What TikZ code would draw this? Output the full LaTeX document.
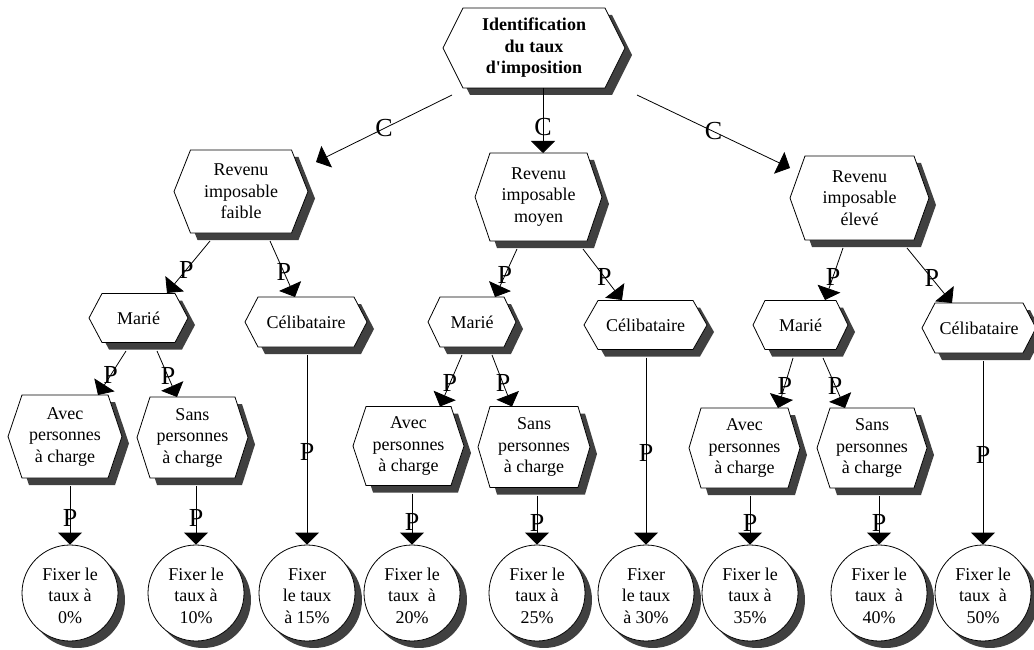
\documentclass[tikz,border=0pt]{standalone}
\usepackage{fontspec}
\setmainfont{Liberation Serif}
\usetikzlibrary{arrows.meta,calc}

\newcommand\txtfont{\fontsize{18}{21.5}\selectfont}
\newcommand\labfont{\fontsize{26}{26}\selectfont}

\tikzset{
  shadowfill/.style={fill=black!75, draw=none},
  hexshape/.style={draw=black, line width=0.8pt, fill=white},
  hexlabel/.style={inner sep=1pt, align=center, font=\txtfont},
  circnode/.style={circle, draw=black, line width=0.8pt, fill=white, minimum size=96pt,
    inner sep=0pt, align=center, font=\txtfont},
  conn/.style={line width=0.8pt, -{Triangle[width=24pt,length=12pt]}},
  plabel/.style={font=\labfont, inner sep=0pt, pos=0.55},
}

% hexagon with the visible part of its shadow (offset 7 down and right):
% name, centre x, centre y, half width, half height, inset, text
\newcommand\hexnode[7]{%
  \fill[shadowfill] ({#2+#4-#6+7*#6/#5},{#3-#5+7}) -- ({#2+#4-#6+7},{#3-#5+7})
    -- ({#2+#4+7},{#3+7}) -- ({#2+#4-#6+7},{#3+#5+7}) -- ({#2-#4+#6+7},{#3+#5+7})
    -- ({#2-#4+7+#6*(#5-7)/#5},{#3+#5}) -- ({#2+#4-#6},{#3+#5}) -- ({#2+#4},#3) -- cycle;
  \filldraw[hexshape] ({#2-#4},#3) -- ({#2-#4+#6},{#3-#5}) -- ({#2+#4-#6},{#3-#5})
    -- ({#2+#4},#3) -- ({#2+#4-#6},{#3+#5}) -- ({#2-#4+#6},{#3+#5}) -- cycle;
  \node[hexlabel, minimum width={2*(#4-#6)}, minimum height={2*#5}] (#1) at (#2,#3) {#7};
}

% round end box with the crescent of its shadow: name, centre x, centre y, text
\newcommand\ratenode[4]{%
  \fill[shadowfill] ({#2+37.26},{#3-30.26}) arc[start angle=-50.9, end angle=140.9, radius=48]
    arc[start angle=129.1, end angle=-39.1, radius=48] -- cycle;
  \node[circnode] (#1) at (#2,#3)
    {\raisebox{0pt}[\dimexpr\height+9pt\relax][\depth]{\begin{tabular}{@{}c@{}}#4\end{tabular}}};
}

\begin{document}
\begin{tikzpicture}[x=1pt,y=-1pt]
\useasboundingbox (0,0) rectangle (1034,650);

% decision tree boxes
\hexnode{top}{534}{48}{91}{40}{20}{\textbf{Identification}\\\textbf{du taux}\\\textbf{d\textquotesingle imposition}}

\hexnode{faible}{241}{191.5}{67}{41.5}{16.5}{Revenu\\imposable\\faible}
\hexnode{moyen}{538.5}{197}{63.5}{44}{15}{Revenu\\imposable\\moyen}
\hexnode{eleve}{859.5}{198}{69.5}{42}{15}{Revenu\\imposable\\élevé}

\hexnode{marie1}{138.5}{318}{49.5}{24.5}{13}{Marié}
\hexnode{celib1}{306}{322}{61}{25}{13}{Célibataire}
\hexnode{marie2}{472}{322}{44}{25}{12}{Marié}
\hexnode{celib2}{645.5}{325}{61.5}{24.5}{14}{Célibataire}
\hexnode{marie3}{800.5}{325}{47.5}{24.5}{12}{Marié}
\hexnode{celib3}{979}{328}{57}{25}{13}{Célibataire}

\hexnode{avec1}{65}{436.5}{57}{41.5}{14}{Avec\\personnes\\à charge}
\hexnode{sans1}{192.5}{437.5}{55.5}{40.5}{13}{Sans\\personnes\\à charge}
\hexnode{avec2}{408.5}{446}{55.5}{39.5}{13}{Avec\\personnes\\à charge}
\hexnode{sans2}{534}{447}{56}{40.5}{12}{Sans\\personnes\\à charge}
\hexnode{avec3}{744.5}{448}{55.5}{40}{12}{Avec\\personnes\\à charge}
\hexnode{sans3}{872}{448}{55}{40}{13}{Sans\\personnes\\à charge}

% final rates
\ratenode{r0}{70}{593}{Fixer le\\taux à\\0\%}
\ratenode{r10}{196}{593}{Fixer le\\taux à\\10\%}
\ratenode{r15}{307}{593}{Fixer\\le taux\\à 15\%}
\ratenode{r20}{412}{593}{Fixer le\\taux\ \ à\\20\%}
\ratenode{r25}{537}{593}{Fixer le\\taux à\\25\%}
\ratenode{r30}{646}{593}{Fixer\\le taux\\à 30\%}
\ratenode{r35}{750}{593}{Fixer le\\taux à\\35\%}
\ratenode{r40}{879}{593}{Fixer le\\taux\ \ à\\40\%}
\ratenode{r50}{983}{593}{Fixer le\\taux\ \ à\\50\%}

% first level
\draw[conn] ($(top)+(-82,47)$) -- node[plabel,pos=0.5] (ca) {C} ($(faible)+(75,-29.5)$);
\draw[conn] ($(top)+(9,40)$) -- node[plabel,pos=0.6] (cb) {C} ($(moyen)+(4.5,-44)$);
\draw[conn] ($(top)+(103,47)$) -- node[plabel,pos=0.5] (cc) {C} ($(eleve)+(-69.5,-30)$);

% second level
\draw[conn] ($(faible)+(-31,49.5)$) -- node[plabel] (pa) {P} ($(marie1)+(28.5,-25)$);
\draw[conn] ($(faible)+(29,49.5)$) -- node[plabel] (pb) {P} ($(celib1)+(-11,-25)$);
\draw[conn] ($(moyen)+(-21.5,52)$) -- node[plabel] (pc) {P} ($(marie2)+(23,-25)$);
\draw[conn] ($(moyen)+(44.5,52)$) -- node[plabel] (pd) {P} ($(celib2)+(-23.5,-25)$);
\draw[conn] ($(eleve)+(-16.5,50)$) -- node[plabel] (pe) {P} ($(marie3)+(24.5,-25)$);
\draw[conn] ($(eleve)+(47.5,50)$) -- node[plabel] (pf) {P} ($(celib3)+(-27,-25)$);

% third level
\draw[conn] ($(marie1)+(-12.5,33)$) -- node[plabel] (pg) {P} ($(avec1)+(33,-41.5)$);
\draw[conn] ($(marie1)+(18.5,33)$) -- node[plabel] (ph) {P} ($(sans1)+(-15.5,-40.5)$);
\draw[conn] ($(marie2)+(-10,33)$) -- node[plabel] (pi) {P} ($(avec2)+(31.5,-39.5)$);
\draw[conn] ($(marie2)+(20,33)$) -- node[plabel] (pj) {P} ($(sans2)+(-22,-40.5)$);
\draw[conn] ($(marie3)+(-7.5,33)$) -- node[plabel] (pk) {P} ($(avec3)+(33.5,-40)$);
\draw[conn] ($(marie3)+(22.5,33)$) -- node[plabel] (pl) {P} ($(sans3)+(-27,-40)$);

% down to the rates
\draw[conn] ($(r0.north |- avec1.south)+(0,8)$) -- node[plabel] (q1) {P} (r0.north);
\draw[conn] ($(r10.north |- sans1.south)+(0,8)$) -- node[plabel] (q2) {P} (r10.north);
\draw[conn] ($(r15.north |- celib1.south)+(0,8)$) -- node[plabel,pos=0.51] (q3) {P} (r15.north);
\draw[conn] ($(r20.north |- avec2.south)+(0,8)$) -- node[plabel] (q4) {P} (r20.north);
\draw[conn] ($(r25.north |- sans2.south)+(0,8)$) -- node[plabel] (q5) {P} (r25.north);
\draw[conn] ($(r30.north |- celib2.south)+(0,8)$) -- node[plabel,pos=0.51] (q6) {P} (r30.north);
\draw[conn] ($(r35.north |- avec3.south)+(0,8)$) -- node[plabel] (q7) {P} (r35.north);
\draw[conn] ($(r40.north |- sans3.south)+(0,8)$) -- node[plabel] (q8) {P} (r40.north);
\draw[conn] ($(r50.north |- celib3.south)+(0,8)$) -- node[plabel,pos=0.51] (q9) {P} (r50.north);
\end{tikzpicture}
\end{document}
